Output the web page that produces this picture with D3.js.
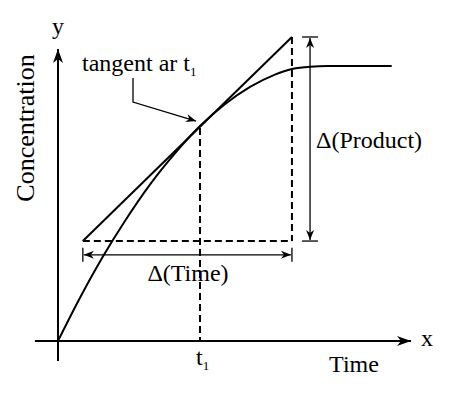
<!DOCTYPE html>
<html>
<head>
<meta charset="utf-8">
<script src="https://cdn.jsdelivr.net/npm/d3@7"></script>
<style>
  body { margin: 0; background: #fff; }
  text { font-family: "Liberation Serif", "Times New Roman", serif; fill: #000; }
</style>
</head>
<body>
<div id="chart"></div>
<script>
// product concentration vs time (arbitrary units)
const timeVals = [0, 0.62, 1.27, 1.89, 2.59, 3.30, 4.0, 4.70, 5.41, 6.11, 6.59, 7.1, 7.6, 9.4];
const concVals = [0, 1.47, 2.88, 4.09, 5.32, 6.39, 7.31, 8.05, 8.64, 9.06, 9.25, 9.33, 9.35, 9.35];

// tangent drawn at t1
const t1 = 4.0;
const c1 = 7.31;
const tangentT = [0.70, 6.59];
const tangentC = [3.40, 10.34];

// dimension lines
const deltaTimeC = 2.93;
const deltaProductT = 7.10;

// axis extents
const xExtent = [-0.65, 10];
const yExtent = [-0.68, 10];

const width = 450, height = 396;

const x = d3.scaleLinear().domain([0, 10]).range([58, 413]);
const y = d3.scaleLinear().domain([0, 10]).range([341, 47]);

const svg = d3.select("#chart").append("svg")
  .attr("width", width)
  .attr("height", height);

const defs = svg.append("defs");

function addArrow(id, len, half, back) {
  defs.append("marker")
    .attr("id", id)
    .attr("markerUnits", "userSpaceOnUse")
    .attr("viewBox", (-len - 1) + " " + (-half - 1) + " " + (len + 2) + " " + (2 * half + 2))
    .attr("markerWidth", len + 2)
    .attr("markerHeight", 2 * half + 2)
    .attr("refX", 0)
    .attr("refY", 0)
    .attr("orient", "auto-start-reverse")
    .append("path")
    .attr("d", "M0,0 L" + (-len) + "," + (-half) + " L" + (-len + back) + ",0 L" + (-len) + "," + half + " Z")
    .attr("fill", "#000");
}
addArrow("bigArrow", 14, 5, 4);
addArrow("smallArrow", 10, 4, 3);

// axes
svg.append("line")
  .attr("x1", x(xExtent[0])).attr("y1", y(0))
  .attr("x2", x(xExtent[1]) - 2).attr("y2", y(0))
  .attr("stroke", "#000").attr("stroke-width", 2)
  .attr("marker-end", "url(#bigArrow)");

svg.append("line")
  .attr("x1", x(0)).attr("y1", y(yExtent[0]))
  .attr("x2", x(0)).attr("y2", y(yExtent[1]) + 2)
  .attr("stroke", "#000").attr("stroke-width", 2)
  .attr("marker-end", "url(#bigArrow)");

// dashed guides
const dashed = svg.append("g")
  .attr("stroke", "#000")
  .attr("stroke-width", 2)
  .attr("stroke-dasharray", "7,4");

dashed.append("line")
  .attr("x1", x(t1)).attr("y1", y(c1) + 2)
  .attr("x2", x(t1)).attr("y2", y(0));

dashed.append("line")
  .attr("x1", x(tangentT[0])).attr("y1", y(tangentC[0]))
  .attr("x2", x(tangentT[1])).attr("y2", y(tangentC[0]));

dashed.append("line")
  .attr("x1", x(tangentT[1])).attr("y1", y(tangentC[1]))
  .attr("x2", x(tangentT[1])).attr("y2", y(tangentC[0]));

// concentration curve
const line = d3.line()
  .x((d, i) => x(timeVals[i]))
  .y((d, i) => y(concVals[i]))
  .curve(d3.curveMonotoneX);

svg.append("path")
  .datum(concVals)
  .attr("d", line)
  .attr("fill", "none")
  .attr("stroke", "#000")
  .attr("stroke-width", 2);

// tangent line
svg.append("line")
  .attr("x1", x(tangentT[0])).attr("y1", y(tangentC[0]))
  .attr("x2", x(tangentT[1])).attr("y2", y(tangentC[1]))
  .attr("stroke", "#000").attr("stroke-width", 2);

// delta time dimension
const dimT = svg.append("g").attr("stroke", "#000").attr("stroke-width", 1.3);
dimT.append("line")
  .attr("x1", x(tangentT[0]) + 1).attr("y1", y(deltaTimeC))
  .attr("x2", x(tangentT[1]) - 1).attr("y2", y(deltaTimeC))
  .attr("marker-start", "url(#smallArrow)")
  .attr("marker-end", "url(#smallArrow)");
tangentT.forEach(t => {
  dimT.append("line")
    .attr("x1", x(t)).attr("y1", y(deltaTimeC) - 7)
    .attr("x2", x(t)).attr("y2", y(deltaTimeC) + 7);
});

// delta product dimension
const dimP = svg.append("g").attr("stroke", "#000").attr("stroke-width", 1.3);
dimP.append("line")
  .attr("x1", x(deltaProductT)).attr("y1", y(tangentC[1]) + 1)
  .attr("x2", x(deltaProductT)).attr("y2", y(tangentC[0]) - 1)
  .attr("marker-start", "url(#smallArrow)")
  .attr("marker-end", "url(#smallArrow)");
tangentC.forEach(c => {
  dimP.append("line")
    .attr("x1", x(deltaProductT) - 8).attr("y1", y(c))
    .attr("x2", x(deltaProductT) + 8).attr("y2", y(c));
});

// leader arrow for the tangent label
svg.append("path")
  .attr("d", d3.line()([[133, 78], [133, 102], [x(t1) - 4, y(c1) - 5]]))
  .attr("fill", "none")
  .attr("stroke", "#000")
  .attr("stroke-width", 1.3)
  .attr("marker-end", "url(#smallArrow)");

// labels
const fs = 24;

svg.append("text")
  .attr("x", x(0)).attr("y", 34)
  .attr("text-anchor", "middle")
  .attr("font-size", fs)
  .text("y");

svg.append("text")
  .attr("x", x(xExtent[1]) + 14).attr("y", y(0) + 5)
  .attr("text-anchor", "middle")
  .attr("font-size", fs)
  .text("x");

svg.append("text")
  .attr("transform", "translate(34," + 128 + ") rotate(-90)")
  .attr("text-anchor", "middle")
  .attr("font-size", 26)
  .text("Concentration");

svg.append("text")
  .attr("x", 354).attr("y", 372)
  .attr("text-anchor", "middle")
  .attr("font-size", fs)
  .text("Time");

const tl = svg.append("text")
  .attr("x", 82).attr("y", 71)
  .attr("font-size", fs)
  .text("tangent ar t");
tl.append("tspan").attr("font-size", 13).attr("dy", 5).text("1");

const t1l = svg.append("text")
  .attr("x", x(t1) - 4).attr("y", 365)
  .attr("font-size", fs)
  .text("t");
t1l.append("tspan").attr("font-size", 13).attr("dy", 5).text("1");

svg.append("text")
  .attr("x", 188).attr("y", 281)
  .attr("text-anchor", "middle")
  .attr("font-size", fs)
  .text("Δ(Time)");

svg.append("text")
  .attr("x", 316).attr("y", 148)
  .attr("font-size", fs)
  .text("Δ(Product)");
</script>
</body>
</html>
